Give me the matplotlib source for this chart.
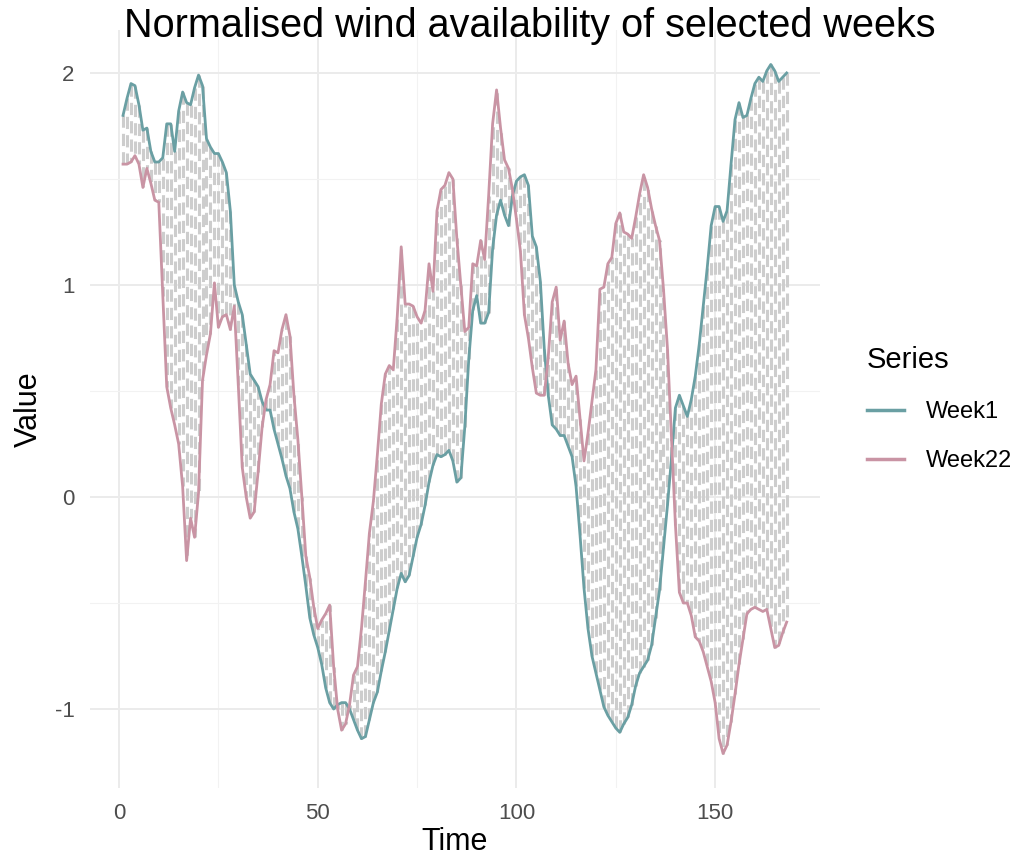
import numpy as np
import matplotlib
matplotlib.use("Agg")
from matplotlib import pyplot as plt

plt.rcParams['font.family'] = ['Liberation Sans', 'DejaVu Sans']

# hourly values for the two weeks
time = np.arange(1, 169)

week1 = [
    1.80, 1.88, 1.95, 1.94, 1.85, 1.73, 1.74, 1.63, 1.58, 1.58,
    1.60, 1.76, 1.76, 1.63, 1.82, 1.91, 1.86, 1.85, 1.93, 1.99,
    1.94, 1.69, 1.65, 1.62, 1.62, 1.58, 1.53, 1.35, 1.00, 0.92,
    0.86, 0.72, 0.58, 0.55, 0.52, 0.45, 0.41, 0.41, 0.32, 0.25,
    0.18, 0.10, 0.04, -0.07, -0.15, -0.28, -0.42, -0.57, -0.65, -0.71,
    -0.79, -0.90, -0.97, -1.00, -0.98, -0.97, -0.97, -1.00, -1.05, -1.10,
    -1.14, -1.13, -1.05, -0.97, -0.92, -0.82, -0.73, -0.63, -0.53, -0.43,
    -0.36, -0.40, -0.37, -0.28, -0.19, -0.13, -0.04, 0.07, 0.15, 0.20,
    0.19, 0.20, 0.22, 0.17, 0.07, 0.09, 0.33, 0.65, 0.88, 0.95,
    0.82, 0.82, 0.87, 1.17, 1.33, 1.40, 1.33, 1.28, 1.42, 1.49,
    1.51, 1.52, 1.47, 1.23, 1.18, 1.02, 0.70, 0.48, 0.34, 0.32,
    0.29, 0.29, 0.24, 0.19, 0.05, -0.18, -0.43, -0.62, -0.75, -0.83,
    -0.91, -0.99, -1.03, -1.06, -1.09, -1.11, -1.07, -1.04, -0.98, -0.89,
    -0.83, -0.80, -0.77, -0.70, -0.57, -0.44, -0.24, -0.04, 0.18, 0.42,
    0.48, 0.43, 0.38, 0.46, 0.57, 0.72, 0.90, 1.08, 1.28, 1.37,
    1.37, 1.30, 1.35, 1.57, 1.78, 1.86, 1.79, 1.80, 1.88, 1.95,
    1.98, 1.96, 2.01, 2.04, 2.01, 1.96, 1.98, 2.00,
]

week22 = [
    1.57, 1.57, 1.58, 1.61, 1.57, 1.46, 1.55, 1.48, 1.40, 1.39,
    0.95, 0.52, 0.42, 0.34, 0.25, 0.05, -0.30, -0.10, -0.19, 0.02,
    0.55, 0.67, 0.77, 1.01, 0.80, 0.85, 0.86, 0.79, 0.90, 0.53,
    0.14, 0.00, -0.10, -0.07, 0.12, 0.33, 0.46, 0.53, 0.69, 0.68,
    0.79, 0.86, 0.76, 0.48, 0.27, 0.00, -0.28, -0.38, -0.52, -0.62,
    -0.58, -0.55, -0.51, -0.80, -1.00, -1.10, -1.07, -0.98, -0.84, -0.80,
    -0.62, -0.40, -0.17, -0.02, 0.20, 0.44, 0.58, 0.62, 0.60, 0.85,
    1.18, 0.91, 0.91, 0.90, 0.85, 0.82, 0.88, 1.10, 0.97, 1.35,
    1.45, 1.47, 1.53, 1.50, 1.22, 1.00, 0.78, 0.80, 1.10, 1.09,
    1.21, 1.12, 1.42, 1.76, 1.92, 1.74, 1.59, 1.55, 1.45, 1.31,
    1.16, 0.86, 0.75, 0.61, 0.49, 0.48, 0.48, 0.66, 0.92, 0.99,
    0.74, 0.83, 0.63, 0.53, 0.57, 0.37, 0.17, 0.30, 0.45, 0.60,
    0.98, 0.99, 1.10, 1.13, 1.29, 1.34, 1.25, 1.24, 1.22, 1.32,
    1.43, 1.52, 1.46, 1.36, 1.28, 1.21, 0.98, 0.70, 0.28, -0.13,
    -0.45, -0.50, -0.50, -0.56, -0.66, -0.68, -0.73, -0.80, -0.87, -0.97,
    -1.14, -1.21, -1.17, -1.06, -0.93, -0.79, -0.67, -0.55, -0.53, -0.52,
    -0.53, -0.54, -0.53, -0.62, -0.71, -0.70, -0.64, -0.59,
]

series_names = ["Week1", "Week22"]
series_colors = ["#6a9fa3", "#c994a4"]

fig = plt.figure(figsize=(10.21, 8.58), dpi=100)
ax = fig.add_axes([0.088, 0.0816, 0.715, 0.8834])

# dashed connectors between the two weeks
ax.vlines(time, week1, week22, colors="#cdcdcd", linewidth=2.2,
          linestyles=(0, (4, 2)), zorder=2)

ax.plot(time, week1, color=series_colors[0], linewidth=2.0, label=series_names[0], zorder=3)
ax.plot(time, week22, color=series_colors[1], linewidth=2.0, label=series_names[1], zorder=3)

# ggplot-like expansion of 5%
x_lo, x_hi = time.min(), time.max()
dx = (x_hi - x_lo) * 0.05
ax.set_xlim(x_lo - dx, x_hi + dx)
all_vals = np.concatenate([week1, week22])
dy = (all_vals.max() - all_vals.min()) * 0.05
ax.set_ylim(all_vals.min() - dy, all_vals.max() + dy)

ax.set_xticks([0, 50, 100, 150])
ax.set_xticks([25, 75, 125], minor=True)
ax.set_yticks([-1, 0, 1, 2])
ax.set_yticklabels(["-1", "0", "1", "2"])
ax.set_yticks([-0.5, 0.5, 1.5], minor=True)

ax.grid(which="major", color="#ebebeb", linewidth=1.4)
ax.grid(which="minor", color="#f2f2f2", linewidth=0.8)
ax.set_axisbelow(True)
for s in ax.spines.values():
    s.set_visible(False)
ax.tick_params(which="both", length=0)
ax.tick_params(axis="both", labelsize=16, labelcolor="#4d4d4d")
ax.tick_params(axis="x", pad=11)
ax.tick_params(axis="y", pad=11)

ax.set_xlabel("Time", fontsize=22, labelpad=2)
ax.set_ylabel("Value", fontsize=22, labelpad=8)

fig.text(0.519, 0.970, "Normalised wind availability of selected weeks",
         fontsize=28.5, ha="center", va="center")

leg = ax.legend(loc="center left", bbox_to_anchor=(1.035, 0.5), frameon=False,
                title="Series", fontsize=17, title_fontsize=21,
                handlelength=1.6, handletextpad=0.9, labelspacing=1.15,
                alignment="left")
for line in leg.get_lines():
    line.set_linewidth(2.5)

plt.savefig("out.png", dpi=100)
